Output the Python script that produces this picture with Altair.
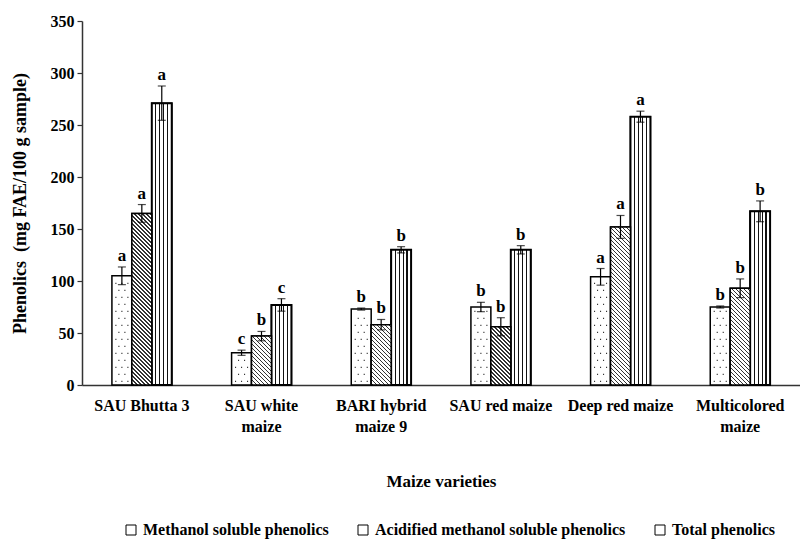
import altair as alt
import pandas as pd

varieties = ["SAU Bhutta 3", "SAU white\nmaize", "BARI hybrid\nmaize 9",
             "SAU red maize", "Deep red maize", "Multicolored\nmaize"]
series = ["Methanol soluble phenolics", "Acidified methanol soluble phenolics", "Total phenolics"]

methanol = [105, 31, 73, 75, 104, 75]
methanol_err = [8.5, 2.5, 1.0, 4.5, 8.0, 1.0]
acidified = [165, 47, 58, 56, 152, 93]
acidified_err = [8.5, 4.5, 5.0, 8.7, 11.0, 9.0]
total = [271, 77, 130, 130, 258, 167]
total_err = [16.5, 6.0, 3.0, 4.0, 5.3, 10.0]
letters_m = ["a", "c", "b", "b", "a", "b"]
letters_a = ["a", "b", "b", "b", "a", "b"]
letters_t = ["a", "c", "b", "b", "a", "b"]

rows = []
for s, vals, errs, lets in [(series[0], methanol, methanol_err, letters_m),
                            (series[1], acidified, acidified_err, letters_a),
                            (series[2], total, total_err, letters_t)]:
    for i, v in enumerate(varieties):
        rows.append({"Variety": v, "idx": i, "Series": s, "Value": vals[i],
                     "Err": errs[i], "Letter": lets[i]})
df = pd.DataFrame(rows)

W, H = 718, 364
PI, PO = 0.5, 0.25
YMAX = 350
FONT = "Liberation Serif"

step = W / (len(varieties) - PI + 2 * PO)
bar_w = step * (1 - PI) / 3
px_per_unit = H / YMAX

x_enc = alt.X("Variety:N", sort=varieties,
              scale=alt.Scale(domain=varieties, paddingInner=PI, paddingOuter=PO),
              axis=alt.Axis(labelExpr="split(datum.label, '\\n')", labelAngle=0,
                            ticks=False, labelPadding=12, labelLineHeight=21,
                            labelBaseline="top", titleY=96, titleBaseline="middle",
                            grid=False, labelLimit=300, titleFontSize=17),
              title="Maize varieties")
xo_enc = alt.XOffset("Series:N", sort=series,
                     scale=alt.Scale(domain=series, paddingInner=0, paddingOuter=0))
y_axis = alt.Axis(values=[0, 50, 100, 150, 200, 250, 300, 350], tickSize=5,
                  labelPadding=3, titleX=-62, titleBaseline="middle", grid=False,
                  titleFontSize=18)
y_scale = alt.Scale(domain=[0, YMAX], nice=False, zero=True)
Y_TITLE = "Phenolics\u00a0 (mg FAE/100 g sample)"


def y_of(field):
    return alt.Y(field, scale=y_scale, axis=y_axis, title=Y_TITLE)


base = alt.Chart(df)

# base bars (white) + legend
bars = base.mark_bar(stroke="black", strokeWidth=1.5).encode(
    x=x_enc, xOffset=xo_enc, y=y_of("Value:Q"),
    fill=alt.Fill("Series:N", sort=series,
                  scale=alt.Scale(domain=series, range=["white", "white", "white"]),
                  legend=alt.Legend(orient="none", direction="horizontal", legendX=41,
                                    legendY=501, title=None, symbolType="square",
                                    symbolSize=100, symbolStrokeColor="black",
                                    symbolStrokeWidth=1, symbolFillColor="white",
                                    labelFont=FONT, labelFontWeight="bold",
                                    labelFontSize=16, labelColor="black", labelLimit=0,
                                    columnPadding=26, labelOffset=4)),
)

# vertical stripes for total phenolics
vstops = [alt.GradientStop(color="white", offset=0)]
for c in [0.2, 0.4, 0.6, 0.8]:
    a, b = c - 0.03, c + 0.03
    vstops += [alt.GradientStop(color="white", offset=a), alt.GradientStop(color="#111", offset=a),
               alt.GradientStop(color="#111", offset=b), alt.GradientStop(color="white", offset=b)]
vstops.append(alt.GradientStop(color="white", offset=1))
vgrad = alt.LinearGradient(gradient="linear", stops=vstops, x1=0, x2=1, y1=0, y2=0)
total_bars = base.transform_filter(alt.datum.Series == series[2]).mark_bar(
    fill=vgrad, stroke="black", strokeWidth=2).encode(
    x=x_enc, xOffset=xo_enc, y=y_of("Value:Q"))


# diagonal hatching for acidified bars (one gradient per bar, 45 deg lines)
def hatch(value):
    w = bar_w
    h = value * px_per_unit
    k = (w + h) / (w * w + h * h)
    period, lw = 4.0, 1.2
    total_s = w + h
    stops = [alt.GradientStop(color="white", offset=0)]
    s = 1.0
    while s + lw < total_s:
        a, b = s / total_s, (s + lw) / total_s
        stops += [alt.GradientStop(color="white", offset=a), alt.GradientStop(color="#333", offset=a),
                  alt.GradientStop(color="#333", offset=b), alt.GradientStop(color="white", offset=b)]
        s += period
    stops.append(alt.GradientStop(color="white", offset=1))
    return alt.LinearGradient(gradient="linear", stops=stops,
                              x1=0, y1=1, x2=k * w, y2=1 - k * h)


hatch_layers = []
for i, v in enumerate(acidified):
    hatch_layers.append(
        base.transform_filter((alt.datum.Series == series[1]) & (alt.datum.idx == i))
        .mark_bar(fill=hatch(v), stroke="black", strokeWidth=1.5)
        .encode(x=x_enc, xOffset=xo_enc, y=y_of("Value:Q"))
    )

# dotted pattern for methanol bars (rows of tiny squares, staggered)
row_step = 7 / px_per_unit


def dot(cx):
    return f"M{cx - 0.09:.2f},-0.09h0.18v0.18h-0.18Z"


path_even = " ".join(dot(c) for c in (-1.0, 0.0, 1.0))
path_odd = " ".join(dot(c) for c in (-0.5, 0.5))
dots = base.transform_filter(alt.datum.Series == series[0]).transform_calculate(
    rows=f"sequence(3.5, datum.Value - 2.5, {row_step})"
).transform_flatten(["rows"]).transform_calculate(
    parity=f"round((datum.rows - 3.5) / {row_step}) % 2 == 0 ? 'e' : 'o'"
).mark_point(filled=True, color="#333", size=144, opacity=1, strokeWidth=0).encode(
    x=x_enc, xOffset=xo_enc, y=y_of("rows:Q"),
    shape=alt.Shape("parity:N", scale=alt.Scale(domain=["e", "o"], range=[path_even, path_odd]),
                    legend=None))

# error bars
err = base.transform_calculate(lo="datum.Value - datum.Err", hi="datum.Value + datum.Err")
err_rule = err.mark_rule(color="black", strokeWidth=1.2).encode(
    x=x_enc, xOffset=xo_enc, y=y_of("lo:Q"), y2="hi:Q")
err_caps = err.transform_fold(["lo", "hi"], as_=["which", "cap"]).mark_tick(
    color="black", size=8, thickness=1.2).encode(
    x=x_enc, xOffset=xo_enc, y=y_of("cap:Q"))

letters = err.mark_text(font=FONT, fontWeight="bold", fontSize=17, color="black",
                        baseline="alphabetic", dy=-6).encode(
    x=x_enc, xOffset=xo_enc, y=y_of("hi:Q"), text="Letter:N")

chart = alt.layer(bars, total_bars, *hatch_layers, dots, err_rule, err_caps, letters).properties(
    width=W, height=H, background="white",
    autosize=alt.AutoSizeParams(type="none"),
    padding={"left": 74, "top": 13, "right": 0, "bottom": 157},
).configure_view(stroke=None).configure_axis(
    domainColor="#333", domainWidth=1.5, tickColor="#333", tickWidth=1.2, grid=False,
    labelFont=FONT, labelFontWeight="bold", labelFontSize=16, labelColor="black",
    titleFont=FONT, titleFontWeight="bold", titleFontSize=16, titleColor="black",
).configure_legend(labelFont=FONT, labelFontWeight="bold", labelFontSize=16, labelColor="black")

chart.save("out.html", embed_options={"renderer": "svg", "actions": False})
